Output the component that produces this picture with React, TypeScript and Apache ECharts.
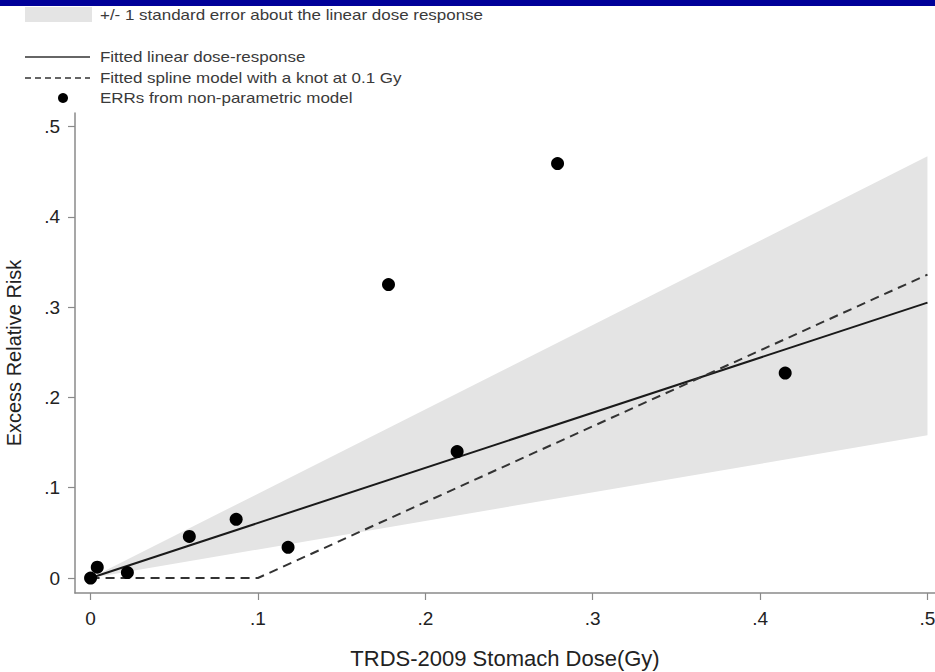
import React, { useEffect, useRef } from "react";
import * as echarts from "echarts";

const tickValues = [0, 0.1, 0.2, 0.3, 0.4, 0.5];

const pointDose = [0, 0.004, 0.022, 0.059, 0.087, 0.118, 0.178, 0.219, 0.279, 0.415];
const pointErr = [0, 0.012, 0.006, 0.046, 0.065, 0.034, 0.325, 0.14, 0.459, 0.227];

const linearDose = [0, 0.5];
const linearErr = [0, 0.305];

const splineDose = [0, 0.1, 0.5];
const splineErr = [0, 0, 0.336];

const bandDose = [0, 0.5];
const bandUpper = [0, 0.467];
const bandLower = [0, 0.158];

const legendTexts = [
  "+/- 1 standard error about the linear dose response",
  "Fitted linear dose-response",
  "Fitted spline model with a knot at 0.1 Gy",
  "ERRs from non-parametric model",
];

const fmt = (v: number) => (v === 0 ? "0" : String(+v.toFixed(1)).replace(/^0/, ""));

export default function App() {
  const ref = useRef<HTMLDivElement>(null);
  useEffect(() => {
    if (!ref.current) return;
    const chart = echarts.init(ref.current, null, { renderer: "svg" });
    const font = "'Liberation Sans', Arial, sans-serif";
    const legendFont = { fontFamily: font, fontSize: 14.5, fill: "#3a3a3a" };
    const lx = 1.17;
    chart.setOption({
      animation: false,
      backgroundColor: "#ffffff",
      grid: { left: 75, right: 0, top: 113, bottom: 79, containLabel: false, outerBoundsMode: "none" },
      xAxis: {
        type: "value",
        min: -0.0093,
        max: 0.5045,
        splitLine: { show: false },
        axisLine: { show: true, onZero: false, lineStyle: { color: "#8a8a8a", width: 1.5 } },
        axisTick: { show: true, length: 7, customValues: tickValues, lineStyle: { color: "#8a8a8a", width: 1.2 } },
        axisLabel: {
          customValues: tickValues,
          formatter: fmt,
          margin: 16,
          fontSize: 19,
          color: "#222",
          fontFamily: font,
        },
        name: "TRDS-2009 Stomach Dose(Gy)",
        nameLocation: "middle",
        nameGap: 54,
        nameTextStyle: { fontSize: 22, color: "#222", fontFamily: font },
      },
      yAxis: {
        type: "value",
        min: -0.0166,
        max: 0.515,
        splitLine: { show: false },
        axisLine: { show: true, onZero: false, lineStyle: { color: "#8a8a8a", width: 1.5 } },
        axisTick: { show: true, length: 7, customValues: tickValues, lineStyle: { color: "#8a8a8a", width: 1.2 } },
        axisLabel: {
          customValues: tickValues,
          formatter: fmt,
          margin: 15,
          fontSize: 19,
          color: "#222",
          fontFamily: font,
        },
        name: "Excess Relative Risk",
        nameLocation: "middle",
        nameGap: 51,
        nameTextStyle: { fontSize: 20, color: "#222", fontFamily: font },
      },
      series: [
        {
          type: "custom",
          silent: true,
          z: 1,
          data: bandDose.map((d, i) => [d, bandUpper[i], bandLower[i]]),
          renderItem: (params: any, api: any) => {
            if (params.dataIndex !== 0) return null;
            const pts: number[][] = [];
            for (let i = 0; i < bandDose.length; i++) pts.push(api.coord([bandDose[i], bandUpper[i]]));
            for (let i = bandDose.length - 1; i >= 0; i--) pts.push(api.coord([bandDose[i], bandLower[i]]));
            return {
              type: "polygon",
              shape: { points: pts },
              style: { fill: "#e4e4e4", stroke: "none" },
            };
          },
        },
        {
          type: "line",
          z: 3,
          data: linearDose.map((d, i) => [d, linearErr[i]]),
          showSymbol: false,
          lineStyle: { color: "#1a1a1a", width: 2 },
        },
        {
          type: "line",
          z: 3,
          data: splineDose.map((d, i) => [d, splineErr[i]]),
          showSymbol: false,
          lineStyle: { color: "#333", width: 2, type: [9, 6] },
        },
        {
          type: "scatter",
          z: 4,
          data: pointDose.map((d, i) => [d, pointErr[i]]),
          symbolSize: 13,
          itemStyle: { color: "#000", opacity: 1 },
        },
      ],
      graphic: [
        { type: "rect", left: 0, top: 0, shape: { width: 935, height: 6 }, style: { fill: "#000099" } },
        { type: "rect", shape: { x: 25, y: 7, width: 67, height: 15 }, style: { fill: "#e4e4e4" } },
        { type: "text", x: 100, y: 15, scaleX: lx, style: { ...legendFont, text: legendTexts[0], verticalAlign: "middle" } },
        { type: "line", shape: { x1: 25, y1: 57, x2: 90, y2: 57 }, style: { stroke: "#333", lineWidth: 1.5 } },
        { type: "text", x: 100, y: 57, scaleX: lx, style: { ...legendFont, text: legendTexts[1], verticalAlign: "middle" } },
        { type: "line", shape: { x1: 25, y1: 78, x2: 90, y2: 78 }, style: { stroke: "#333", lineWidth: 1.5, lineDash: [6, 4] } },
        { type: "text", x: 100, y: 78, scaleX: lx, style: { ...legendFont, text: legendTexts[2], verticalAlign: "middle" } },
        { type: "circle", shape: { cx: 63, cy: 98, r: 5 }, style: { fill: "#000" } },
        { type: "text", x: 100, y: 98, scaleX: lx, style: { ...legendFont, text: legendTexts[3], verticalAlign: "middle" } },
      ],
    });
    return () => chart.dispose();
  }, []);
  return <div ref={ref} style={{ position: "fixed", left: 0, top: 0, width: 935, height: 672 }} />;
}
